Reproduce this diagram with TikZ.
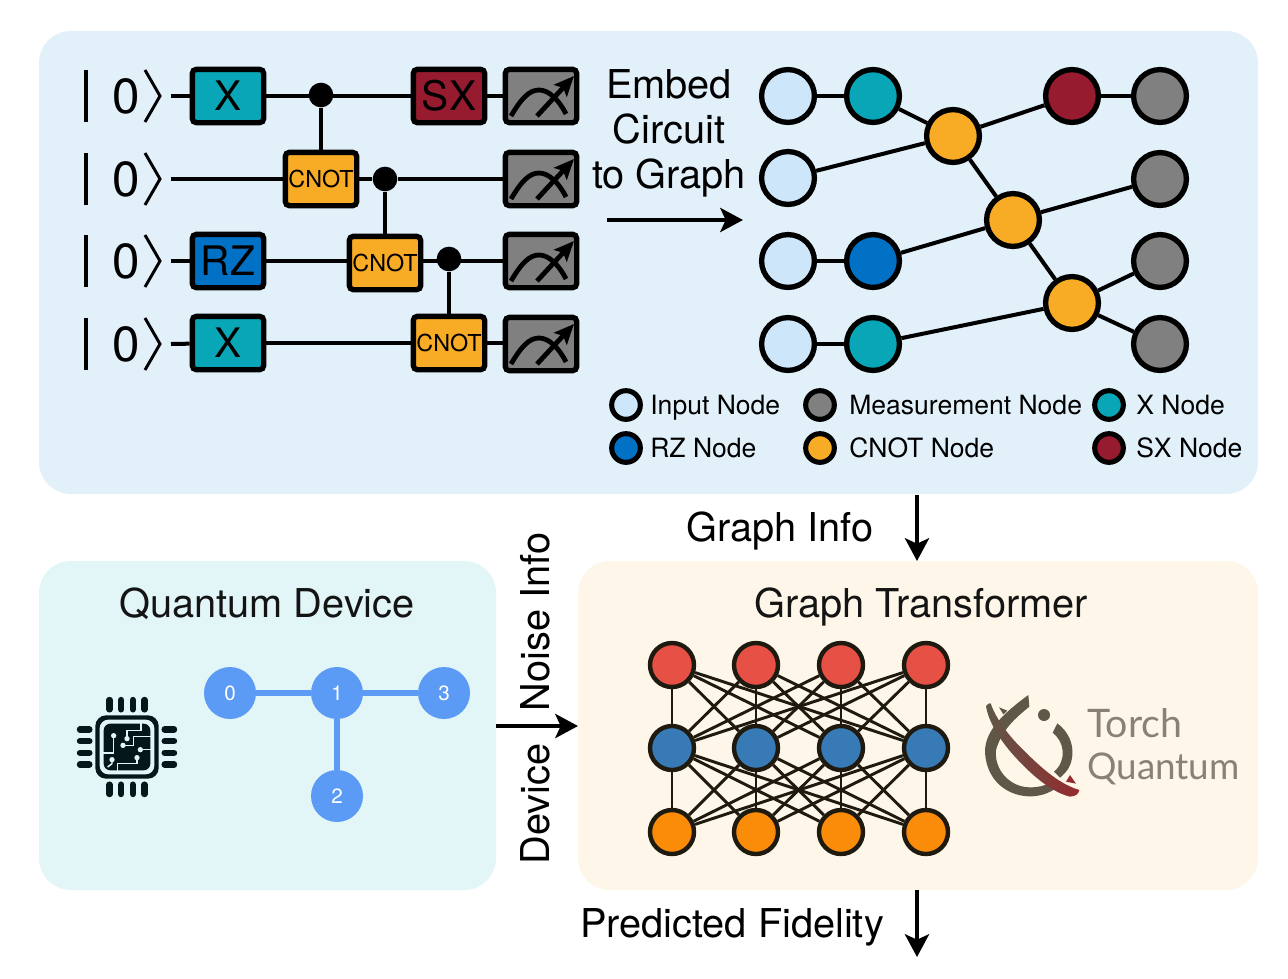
\documentclass[tikz,border=0pt]{standalone}
\usepackage{fontspec}
\setmainfont{TeX Gyre Heros}
\newfontfamily\logofont{Lato}
\usetikzlibrary{arrows.meta}
\definecolor{panelA}{HTML}{E1F0F9}
\definecolor{panelB}{HTML}{E2F5F7}
\definecolor{panelC}{HTML}{FEF6E8}
\definecolor{xc}{HTML}{08A6B6}
\definecolor{rzc}{HTML}{0071C5}
\definecolor{sxc}{HTML}{971B2F}
\definecolor{cnc}{HTML}{F8AC25}
\definecolor{mc}{HTML}{808080}
\definecolor{inc}{HTML}{CDE6FA}
\definecolor{devc}{HTML}{5B9BF5}
\definecolor{nnline}{HTML}{1E1A10}
\definecolor{nnr}{HTML}{E75044}
\definecolor{nnb}{HTML}{377AB5}
\definecolor{nno}{HTML}{FB8C0A}
\definecolor{logog}{HTML}{5F5748}
\definecolor{logor}{HTML}{962A2E}
\definecolor{chipc}{HTML}{04181C}
\tikzset{
  x=0.75pt,y=-0.75pt,
  panel/.style={rounded corners=24pt,draw=none},
  gatebox/.style={draw=black,line width=4pt,rounded corners=3pt,minimum width=53.5pt,minimum height=40pt,inner sep=0pt,font=\fontsize{30.5}{30}\selectfont},
  cnotbox/.style={gatebox,fill=cnc,font=\fontsize{17.5}{18}\selectfont},
  wire/.style={line width=3pt,draw=black},
  ctrl/.style={circle,fill=black,minimum size=18.5pt,inner sep=0pt},
  gnode/.style={circle,draw=black,line width=4pt,minimum size=39.6pt,inner sep=0pt},
  gedge/.style={line width=3pt,draw=black},
  legnode/.style={circle,draw=black,line width=3.8pt,minimum size=21.5pt,inner sep=0pt},
  legtext/.style={anchor=base west,font=\fontsize{19.9}{22}\selectfont,inner sep=0pt},
  bigtext/.style={font=\fontsize{29.8}{32}\selectfont,inner sep=0pt},
  title/.style={anchor=base,font=\fontsize{29.8}{32}\selectfont,inner sep=0pt,text=black!92},
  arrowline/.style={line width=3.6pt,draw=black,-{Stealth[length=17pt,width=18pt,inset=4pt]}},
  devnode/.style={circle,fill=devc,minimum size=39pt,inner sep=0pt,text=white,font=\fontsize{15.5}{16}\selectfont},
  devedge/.style={line width=5.2pt,draw=devc},
  nnnode/.style={circle,draw=nnline,line width=3.3pt,minimum size=33pt,inner sep=0pt},
  nnedge/.style={line width=2.2pt,draw=nnline},
  ketbar/.style={line width=3pt,draw=black},
  ketang/.style={line width=2.2pt,draw=black},
  pin/.style={line width=4.8pt,draw=chipc,line cap=round},
  trace/.style={line width=1.1pt,draw=panelB},
  logotext/.style={anchor=west,inner sep=0pt,text=logog!75!white}
}
\newcommand{\meas}[1]{%
  \begin{scope}[shift={(#1)}]
    \draw[line width=3.6pt,draw=black] (-30,20) .. controls (-20,3) and (-12,-6) .. (-2,-6) .. controls (8,-6) and (18,4) .. (25,18);
    \draw[line width=3.6pt,draw=black,-{Stealth[length=15pt,width=13pt,inset=3pt]}] (-4,20) -- (33,-20);
  \end{scope}}
\begin{document}
\begin{tikzpicture}
\useasboundingbox (0,0) rectangle (1288,978);
\fill[white] (0,0) rectangle (1288,978);
\fill[panel,fill=panelA] (39,31) rectangle (1258,494);
\fill[panel,fill=panelB] (39,561) rectangle (496,890);
\fill[panel,fill=panelC] (578,561) rectangle (1258,890);

% kets
\foreach \i/\y in {1/96,2/179,3/261,4/344}{
  \draw[ketbar] (86,\y-26) -- (86,\y+26);
  \node[bigtext,font=\fontsize{37}{37}\selectfont] (zero\i) at (126.5,\y) {0};
  \draw[ketang] (145,\y-26) -- (160,\y) -- (145,\y+26);
  \coordinate (ws\i) at (171,\y);
}
% circuit
\node[gatebox,fill=xc] (gx1) at (228,96) {X};
\node[gatebox,fill=rzc] (grz) at (228,261) {RZ};
\node[gatebox,fill=xc] (gx4) at (228,343) {X};
\node[gatebox,fill=sxc] (gsx) at (449,96) {SX};
\node[cnotbox] (c1) at (321,179) {CNOT};
\node[cnotbox] (c2) at (385,263) {CNOT};
\node[cnotbox] (c3) at (449,343) {CNOT};
\node[gatebox,fill=mc] (m1) at (541,96) {};
\node[gatebox,fill=mc] (m2) at (541,179) {};
\node[gatebox,fill=mc] (m3) at (541,261) {};
\node[gatebox,fill=mc] (m4) at (541,344) {};
\meas{541,96}\meas{541,179}\meas{541,261}\meas{541,344}
\node[ctrl] (k1) at (321,95) {};
\node[ctrl] (k2) at (385,179) {};
\node[ctrl] (k3) at (449,259) {};
\draw[wire] (ws1) -- (gx1);
\draw[wire] (gx1) -- (gsx);
\draw[wire] (gsx) -- (m1);
\draw[wire] (k1) -- (c1);
\draw[wire] (ws2) -- (c1);
\draw[wire] (c1) -- (k2);
\draw[wire] (k2) -- (m2);
\draw[wire] (k2) -- (c2);
\draw[wire] (ws3) -- (grz);
\draw[wire] (grz) -- (c2.west |- grz);
\draw[wire] (c2.east |- m3) -- (m3);
\draw[wire] (k3) -- (c3);
\draw[wire] (ws4) -- (gx4);
\draw[wire] (gx4) -- (c3);
\draw[wire] (c3) -- (m4.west |- c3);

% embed text
\node[bigtext,align=center,font=\fontsize{29.8}{33.8}\selectfont] (embed) at (669,133.5) {Embed\\Circuit\\to Graph};
\coordinate (ea) at (607,220);
\coordinate (eb) at (743,220);
\draw[arrowline] (ea) -- (eb);

% graph
\node[gnode,fill=inc] (i1) at (788,96) {};
\node[gnode,fill=inc] (i2) at (788,178) {};
\node[gnode,fill=inc] (i3) at (788,261) {};
\node[gnode,fill=inc] (i4) at (788,344) {};
\node[gnode,fill=xc] (x1) at (873,96) {};
\node[gnode,fill=rzc] (r1) at (873,261) {};
\node[gnode,fill=xc] (x4) at (873,344) {};
\node[gnode,fill=cnc] (n1) at (953,136) {};
\node[gnode,fill=cnc] (n2) at (1013,220) {};
\node[gnode,fill=cnc] (n3) at (1072,303) {};
\node[gnode,fill=sxc] (s1) at (1072,96) {};
\node[gnode,fill=mc] (o1) at (1160,96) {};
\node[gnode,fill=mc] (o2) at (1160,179) {};
\node[gnode,fill=mc] (o3) at (1160,261) {};
\node[gnode,fill=mc] (o4) at (1160,344) {};
\foreach \a/\b in {i1/x1,x1/n1,i2/n1,n1/s1,s1/o1,n1/n2,i3/r1,r1/n2,n2/o2,n2/n3,i4/x4,x4/n3,n3/o3,n3/o4}
  \draw[gedge] (\a) -- (\b);

% legend
\node[legnode,fill=inc] (l1) at (626,405) {};
\node[legnode,fill=mc] (l2) at (820,405) {};
\node[legnode,fill=xc] (l3) at (1109,405) {};
\node[legnode,fill=rzc] (l4) at (626,448) {};
\node[legnode,fill=cnc] (l5) at (820,448) {};
\node[legnode,fill=sxc] (l6) at (1109,448) {};
\node[legtext] (t1) at (650,414) {Input Node};
\node[legtext] (t2) at (849,414) {Measurement Node};
\node[legtext] (t3) at (1136,414) {X Node};
\node[legtext] (t4) at (650,457) {RZ Node};
\node[legtext] (t5) at (849,457) {CNOT Node};
\node[legtext] (t6) at (1136,457) {SX Node};

% between panels
\node[bigtext] (gi) at (780,531) {Graph Info};
\coordinate (ga) at (917,495);
\coordinate (gb) at (917,561);
\draw[arrowline] (ga) -- (gb);
\node[bigtext] (pf) at (732,927) {Predicted Fidelity};
\coordinate (pa) at (917,890);
\coordinate (pb) at (917,957);
\draw[arrowline] (pa) -- (pb);
\coordinate (da) at (496,726);
\coordinate (db) at (578,726);
\draw[arrowline] (da) -- (db);
\node[bigtext,rotate=90] (ni) at (535,622) {Noise Info};
\node[bigtext,rotate=90] (dv) at (535,804) {Device};

% titles
\node[title] (qd) at (267,617) {Quantum Device};
\node[title] (gt) at (921,617) {Graph Transformer};

% device graph
\node[devnode] (d0) at (230,693) {0};
\node[devnode] (d1) at (337,693) {1};
\node[devnode] (d3) at (444,693) {3};
\node[devnode] (d2) at (337,796) {2};
\draw[devedge] (d0) -- (d1);
\draw[devedge] (d1) -- (d3);
\draw[devedge] (d1) -- (d2);

% NN
\foreach \n/\x in {1/672,2/756,3/841,4/926}{
  \node[nnnode,fill=nnr] (a\n) at (\x,665) {};
  \node[nnnode,fill=nnb] (b\n) at (\x,748) {};
  \node[nnnode,fill=nno] (c\n) at (\x,832) {};
}
\foreach \p in {1,2,3,4}\foreach \q in {1,2,3,4}{
  \draw[nnedge] (a\p) -- (b\q);
  \draw[nnedge] (b\p) -- (c\q);
}

% chip
\begin{scope}[shift={(127,747)},x=0.25pt,y=-0.25pt]
  \foreach \d in {-52.5,-17.5,17.5,52.5}{
    \draw[pin] (\d,-141) -- (\d,-113);
    \draw[pin] (\d,113) -- (\d,141);
    \draw[pin] (-141,\d) -- (-113,\d);
    \draw[pin] (113,\d) -- (141,\d);
  }
  \fill[chipc,rounded corners=8pt] (-95,-95) rectangle (95,95);
  \fill[panelB,rounded corners=6.5pt] (-82,-82) rectangle (82,82);
  \fill[chipc,rounded corners=5pt] (-70,-70) rectangle (70,70);
  \draw[trace] (-40,-30) -- (-40,18) -- (-72,18);
  \draw[trace] (0,-25) -- (0,-50) -- (42,-50) -- (42,-72);
  \draw[trace] (-12,-5) -- (20,-5) -- (20,-32) -- (72,-32);
  \draw[trace] (40,8) -- (72,8);
  \draw[trace] (30,32) -- (30,50) -- (-28,50) -- (-28,72);
  \draw[trace] (-45,38) -- (-45,50) -- (-58,60);
  \fill[panelB] (-40,-34) circle (2pt) (0,-25) circle (2pt) (-12,-5) circle (2pt) (40,8) circle (2pt) (30,32) circle (2pt) (-45,38) circle (2pt);
\end{scope}

% logo
\begin{scope}[shift={(970,680)},x=0.25pt,y=-0.25pt]
  \fill[logog] (175,45) -- (178,80) .. controls (135,115) and (95,150) .. (78,210) .. controls (72,270) and (120,322) .. (180,322) .. controls (205,322) and (225,318) .. (245,305) -- (262,322) .. controls (235,342) and (205,350) .. (175,349) .. controls (95,345) and (45,285) .. (45,210) .. controls (48,150) and (100,100) .. (175,45) -- cycle;
  \fill[logog] (262,130) .. controls (295,155) and (310,190) .. (307,225) .. controls (305,255) and (292,275) .. (270,293) -- (252,275) .. controls (272,258) and (280,235) .. (278,212) .. controls (276,190) and (265,172) .. (248,158) -- cycle;
  \fill[logog] (222,105) circle (4.5pt);
  \shade[left color=logog,middle color=logog!60!logor,right color=logor] (48,78) .. controls (52,70) and (58,70) .. (62,70) .. controls (75,110) and (110,160) .. (150,200) .. controls (200,250) and (260,310) .. (328,330) .. controls (325,342) and (320,348) .. (300,350) .. controls (240,335) and (180,280) .. (130,225) .. controls (90,180) and (55,125) .. (48,78) -- cycle;
  \fill[logog] (87,82) -- (112,92) -- (100,103) -- cycle;
  \fill[logor] (300,285) -- (318,311) -- (288,305) -- cycle;
\end{scope}
\node[logotext,font=\logofont\fontsize{29.5}{30}\selectfont] (lt1) at (1087,723) {Torch};
\node[logotext,font=\logofont\fontsize{27.6}{30}\selectfont] (lt2) at (1087,769) {Quantum};
\end{tikzpicture}
\end{document}
